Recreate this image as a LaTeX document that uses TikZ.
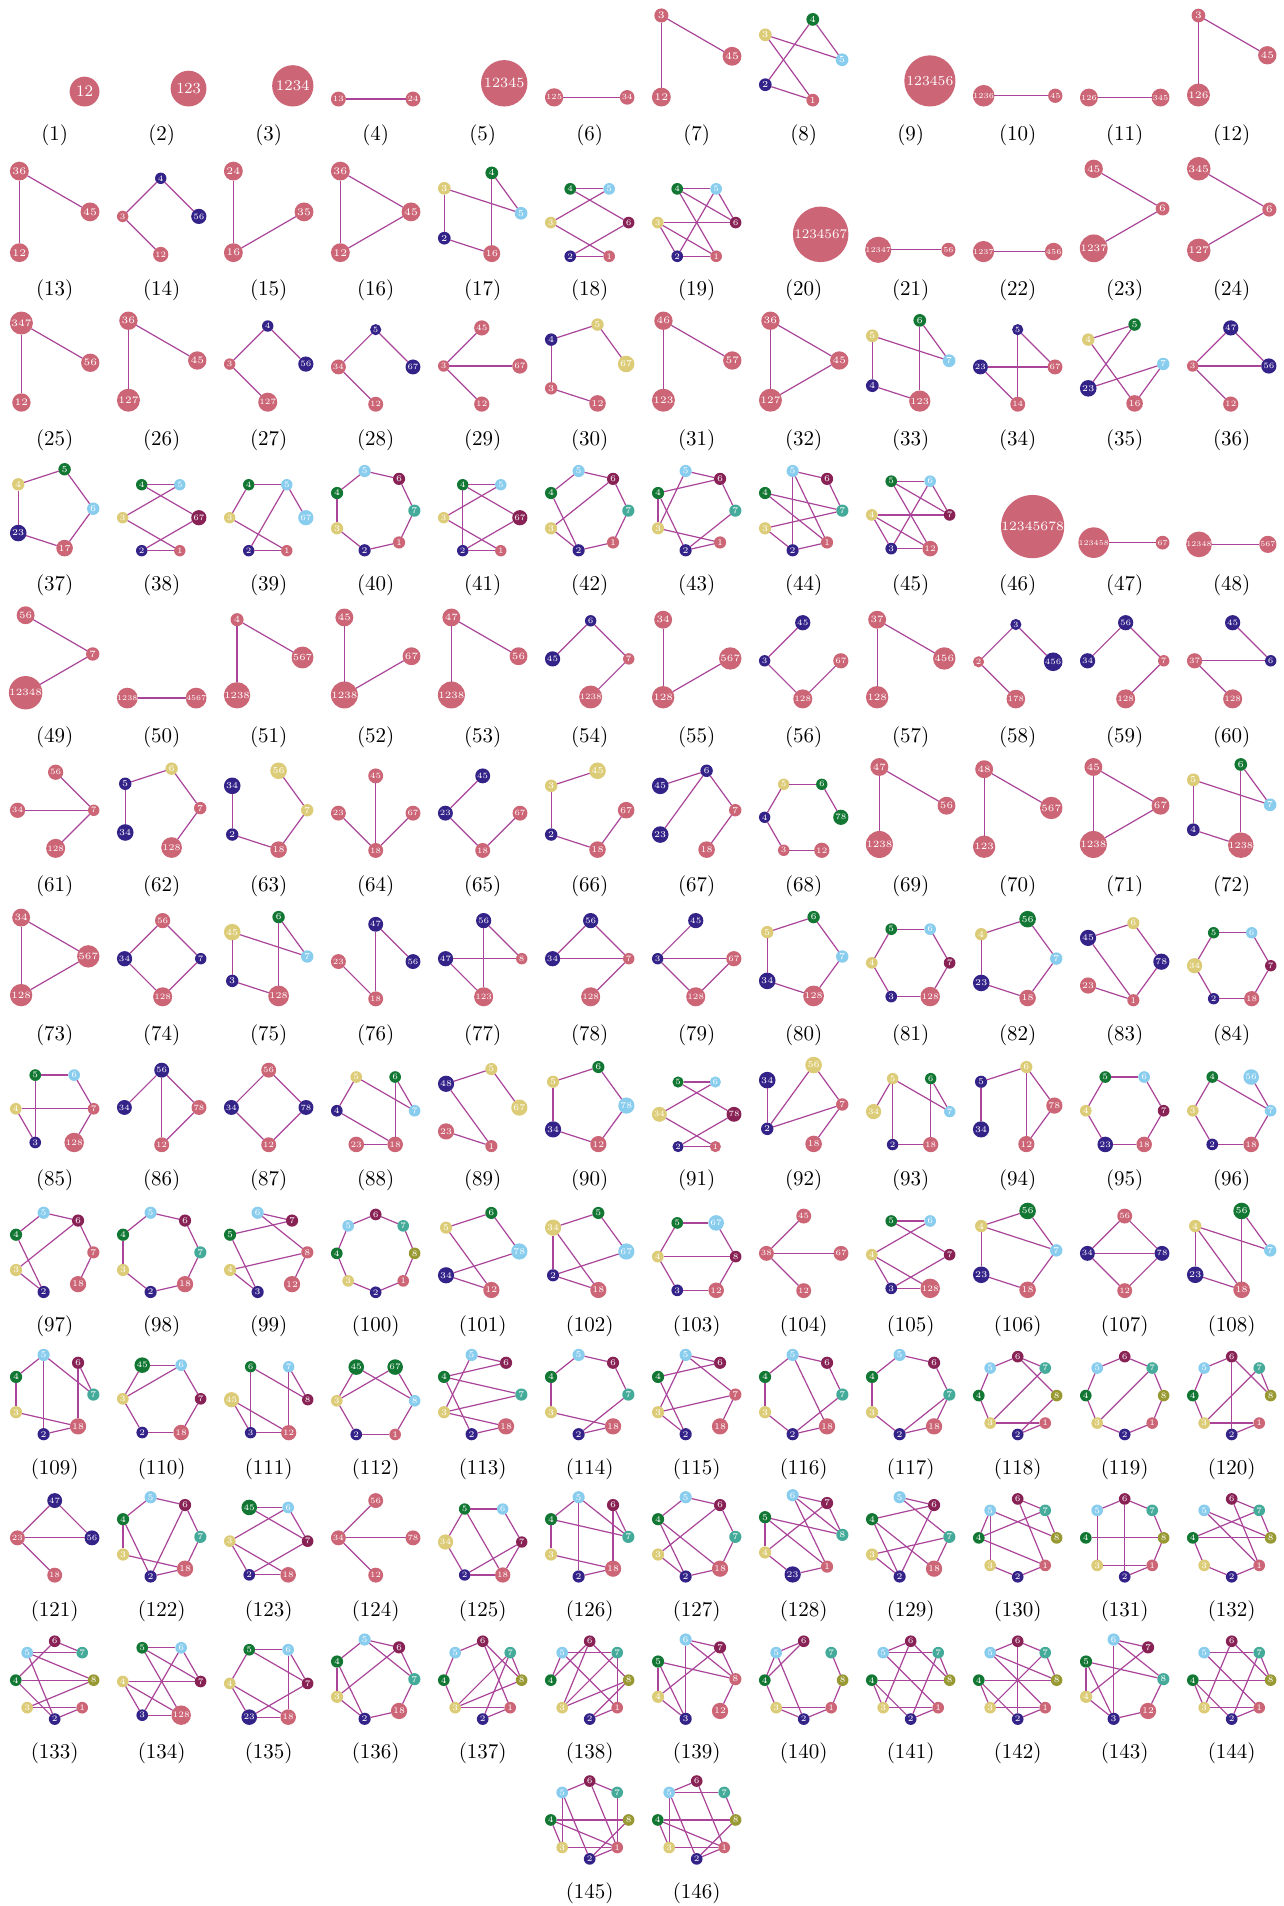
\documentclass[tikz,border=0pt]{standalone}
\usepackage{fontspec}
\definecolor{cr}{HTML}{CC6677}
\definecolor{cb}{HTML}{332288}
\definecolor{cy}{HTML}{DDCC77}
\definecolor{cg}{HTML}{117733}
\definecolor{cc}{HTML}{88CCEE}
\definecolor{cw}{HTML}{882255}
\definecolor{ct}{HTML}{44AA99}
\definecolor{co}{HTML}{999933}
\definecolor{edgec}{HTML}{AA4499}
\tikzset{
  gnode/.style={circle, inner sep=0pt, outer sep=0pt, text=white},
  gedge/.style={draw=edgec, line width=0.6pt},
  gcap/.style={font=\fontsize{10.5pt}{12pt}\selectfont, inner sep=0pt}
}
\newcommand\GrNode[7]{\node[gnode, fill=c#6, minimum size=#4pt, font=\fontsize{#5pt}{#5pt}\selectfont] (#1) at (#2,#3) {#7};}
\newcommand\GrEdge[3]{\draw[gedge] (g#1-#2) -- (g#1-#3);}
\newcommand\GrCap[3]{\node[gcap] (cap#1) at (#2,#3) {(#1)};}
\newcommand\EightN{1r,2b,3y,4g,5c,6w,7t,8o}
\newcommand\SevenN{1r,2b,3y,4g,5c,6w,7t}
\newcommand\SevenE{18r,2b,3y,4g,5c,6w,7t}
\ExplSyntaxOn
\seq_new:N \l__gr_nodes_seq
\int_new:N \l__gr_n_int
\int_new:N \l__gr_col_int
\int_new:N \l__gr_row_int
\fp_new:N \l__gr_xmin_fp
\fp_new:N \l__gr_xmax_fp
\fp_new:N \l__gr_ymin_fp
\fp_new:N \l__gr_s_fp
\fp_new:N \l__gr_t_fp
\fp_new:N \l__gr_d_fp
\fp_new:N \l__gr_colx_fp
\fp_new:N \l__gr_base_fp
\tl_new:N \l__gr_num_tl
\clist_const:Nn \c__gr_capy_clist {135.0, 290.6, 440.2, 584.9, 736.9, 886.4, 1034.8, 1180.7, 1326.6, 1468.8, 1611.1, 1753.4, 1893.2}
\cs_new_protected:Npn \__gr_edge:w #1 - #2 \q_stop
  { \exp_args:NV \GrEdge \l__gr_num_tl {#1} {#2} }
\NewDocumentCommand \Gr { m m m }
  {
    \tl_set:Nn \l__gr_num_tl {#1}
    \exp_args:NNe \seq_set_from_clist:Nn \l__gr_nodes_seq {#2}
    \int_set:Nn \l__gr_n_int { \seq_count:N \l__gr_nodes_seq }
    \int_set:Nn \l__gr_col_int { \int_mod:nn {#1 - 1} {12} }
    \int_set:Nn \l__gr_row_int { \int_div_truncate:nn {#1 - 1} {12} }
    \int_compare:nNnT {#1} > {144} { \int_set:Nn \l__gr_col_int {#1 - 140} }
    \fp_set:Nn \l__gr_xmin_fp {100}
    \fp_set:Nn \l__gr_xmax_fp {-100}
    \fp_set:Nn \l__gr_ymin_fp {100}
    \seq_map_indexed_inline:Nn \l__gr_nodes_seq
      {
        \fp_set:Nn \l__gr_t_fp { -360 * ##1 / \int_use:N \l__gr_n_int }
        \fp_set:Nn \l__gr_d_fp { 0.2 + 0.1 * ( \tl_count:n {##2} - 1 ) }
        \fp_set:Nn \l__gr_xmin_fp { min ( \l__gr_xmin_fp , cosd ( \l__gr_t_fp ) - \l__gr_d_fp / 2 ) }
        \fp_set:Nn \l__gr_xmax_fp { max ( \l__gr_xmax_fp , cosd ( \l__gr_t_fp ) + \l__gr_d_fp / 2 ) }
        \fp_set:Nn \l__gr_ymin_fp { min ( \l__gr_ymin_fp , sind ( \l__gr_t_fp ) - \l__gr_d_fp / 2 ) }
      }
    \int_compare:nNnT { \l__gr_n_int } = { 1 }
      { \fp_set:Nn \l__gr_xmin_fp { min ( \l__gr_xmin_fp , 0 ) } }
    \fp_set:Nn \l__gr_s_fp { 89.5 / ( \l__gr_xmax_fp - \l__gr_xmin_fp ) }
    \fp_set:Nn \l__gr_colx_fp { 54.7 + 107 * \int_use:N \l__gr_col_int - \l__gr_s_fp * ( \l__gr_xmax_fp + \l__gr_xmin_fp ) / 2 }
    \fp_set:Nn \l__gr_base_fp { \clist_item:Nn \c__gr_capy_clist { \l__gr_row_int + 1 } - 28.5 + \l__gr_s_fp * \l__gr_ymin_fp }
    \seq_map_indexed_inline:Nn \l__gr_nodes_seq
      {
        \fp_set:Nn \l__gr_t_fp { -360 * ##1 / \int_use:N \l__gr_n_int }
        \use:e
          {
            \exp_not:N \GrNode
              { g#1 - \tl_range:nnn {##2} {1} {-2} }
              { \fp_eval:n { \l__gr_colx_fp + \l__gr_s_fp * cosd ( \l__gr_t_fp ) } }
              { \fp_eval:n { \l__gr_base_fp - \l__gr_s_fp * sind ( \l__gr_t_fp ) } }
              { \fp_eval:n { 0.5 * \l__gr_s_fp * ( 0.2 + 0.1 * ( \tl_count:n {##2} - 1 ) ) } }
              { \fp_eval:n { 0.1075 * \l__gr_s_fp } }
              { \tl_item:nn {##2} {-1} }
              { \tl_range:nnn {##2} {1} {-2} }
          }
      }
    \clist_map_inline:nn {#3} { \__gr_edge:w ##1 \q_stop }
    \use:e
      {
        \exp_not:N \GrCap {#1}
          { \fp_eval:n { 54.7 + 107 * \int_use:N \l__gr_col_int } }
          { \clist_item:Nn \c__gr_capy_clist { \l__gr_row_int + 1 } }
      }
  }
\ExplSyntaxOff
\begin{document}
\begin{tikzpicture}[x=0.5pt,y=-0.5pt]
\fill[white] (0,0) rectangle (1284,1906);
\useasboundingbox (0,0) rectangle (1284,1906);
\Gr{1}{12r}{}
\Gr{2}{123r}{}
\Gr{3}{1234r}{}
\Gr{4}{13r,24r}{13-24}
\Gr{5}{12345r}{}
\Gr{6}{125r,34r}{125-34}
\Gr{7}{12r,3r,45r}{3-12,3-45}
\Gr{8}{1r,2b,3y,4g,5c}{4-2,4-5,3-5,3-1,2-1}
\Gr{9}{123456r}{}
\Gr{10}{1236r,45r}{1236-45}
\Gr{11}{126r,345r}{126-345}
\Gr{12}{126r,3r,45r}{3-126,3-45}
\Gr{13}{12r,36r,45r}{36-12,36-45}
\Gr{14}{12r,3r,4b,56b}{4-3,4-56,3-12}
\Gr{15}{16r,24r,35r}{24-16,16-35}
\Gr{16}{12r,36r,45r}{36-12,36-45,12-45}
\Gr{17}{16r,2b,3y,4g,5c}{4-5,4-16,3-5,3-2,2-16}
\Gr{18}{1r,2b,3y,4g,5c,6w}{4-5,4-6,3-5,3-1,2-6,2-1}
\Gr{19}{1r,2b,3y,4g,5c,6w}{4-5,4-6,4-1,5-6,5-2,3-6,3-2,3-1,2-1}
\Gr{20}{1234567r}{}
\Gr{21}{12347r,56r}{12347-56}
\Gr{22}{1237r,456r}{1237-456}
\Gr{23}{1237r,45r,6r}{45-6,6-1237}
\Gr{24}{127r,345r,6r}{345-6,6-127}
\Gr{25}{12r,347r,56r}{347-12,347-56}
\Gr{26}{127r,36r,45r}{36-127,36-45}
\Gr{27}{127r,3r,4b,56b}{4-3,4-56,3-127}
\Gr{28}{12r,34r,5b,67b}{5-34,5-67,34-12}
\Gr{29}{12r,3r,45r,67r}{3-45,3-67,3-12}
\Gr{30}{12r,3r,4b,5y,67y}{4-5,5-67,4-3,3-12}
\Gr{31}{123r,46r,57r}{46-123,46-57}
\Gr{32}{127r,36r,45r}{36-127,36-45,127-45}
\Gr{33}{123r,4b,5y,6g,7c}{6-7,6-123,5-7,5-4,4-123}
\Gr{34}{14r,23b,5b,67r}{5-67,5-14,23-67,23-14}
\Gr{35}{16r,23b,4y,5g,7c}{4-5,5-23,4-16,23-7,7-16}
\Gr{36}{12r,3r,47b,56b}{47-3,47-56,3-56,3-12}
\Gr{37}{17r,23b,4y,5g,6c}{4-5,5-6,6-17,17-23,23-4}
\Gr{38}{1r,2b,3y,4g,5c,67w}{4-5,4-67,3-5,3-1,2-67,2-1}
\Gr{39}{1r,2b,3y,4g,5c,67c}{4-5,4-3,5-67,5-2,3-1,2-1}
\Gr{40}{\SevenN}{5-6,6-7,7-1,1-2,2-3,3-4,4-5}
\Gr{41}{1r,2b,3y,4g,5c,67w}{4-5,4-67,4-2,3-5,3-1,2-67,2-1}
\Gr{42}{\SevenN}{4-5,5-6,6-7,7-1,1-2,2-3,2-4,3-6}
\Gr{43}{\SevenN}{5-6,5-3,4-6,4-3,4-2,6-7,7-2,3-1,2-1}
\Gr{44}{\SevenN}{5-6,5-2,5-1,4-7,4-1,3-7,3-2,6-7,2-1}
\Gr{45}{12r,3b,4y,5g,6c,7w}{5-6,5-7,5-12,6-7,6-3,4-7,4-3,4-12,3-12}
\Gr{46}{12345678r}{}
\Gr{47}{123458r,67r}{123458-67}
\Gr{48}{12348r,567r}{12348-567}
\Gr{49}{12348r,56r,7r}{56-7,7-12348}
\Gr{50}{1238r,4567r}{1238-4567}
\Gr{51}{1238r,4r,567r}{4-1238,4-567}
\Gr{52}{1238r,45r,67r}{45-1238,1238-67}
\Gr{53}{1238r,47r,56r}{47-1238,47-56}
\Gr{54}{1238r,45b,6b,7r}{45-6,6-7,7-1238}
\Gr{55}{128r,34r,567r}{34-128,128-567}
\Gr{56}{128r,3b,45b,67r}{3-45,3-128,128-67}
\Gr{57}{128r,37r,456r}{37-128,37-456}
\Gr{58}{178r,2r,3b,456b}{3-2,3-456,2-178}
\Gr{59}{128r,34b,56b,7r}{34-56,56-7,7-128}
\Gr{60}{128r,37r,45b,6b}{45-6,37-6,37-128}
\Gr{61}{128r,34r,56r,7r}{56-7,34-7,7-128}
\Gr{62}{128r,34b,5b,6y,7r}{5-6,5-34,6-7,7-128}
\Gr{63}{18r,2b,34b,56y,7y}{34-2,2-18,56-7,7-18}
\Gr{64}{18r,23r,45r,67r}{45-18,23-18,67-18}
\Gr{65}{18r,23b,45b,67r}{45-23,23-18,18-67}
\Gr{66}{18r,2b,3y,45y,67r}{3-45,3-2,2-18,18-67}
\Gr{67}{18r,23b,45b,6b,7r}{45-6,6-23,6-7,7-18}
\Gr{68}{12r,3r,4b,5y,6g,78g}{5-6,6-78,5-4,4-3,3-12}
\Gr{69}{1238r,47r,56r}{47-1238,47-56}
\Gr{70}{123r,48r,567r}{48-123,48-567}
\Gr{71}{1238r,45r,67r}{45-1238,45-67,67-1238}
\Gr{72}{1238r,4b,5y,6g,7c}{6-7,6-1238,5-7,5-4,4-1238}
\Gr{73}{128r,34r,567r}{34-128,34-567,567-128}
\Gr{74}{128r,34b,56r,7b}{56-34,56-7,34-128,7-128}
\Gr{75}{128r,3b,45y,6g,7c}{6-7,6-128,45-7,45-3,3-128}
\Gr{76}{18r,23r,47b,56b}{47-56,47-18,23-18}
\Gr{77}{123r,47b,56b,8r}{56-8,56-123,47-8,47-123}
\Gr{78}{128r,34b,56b,7r}{56-34,56-7,34-7,7-128}
\Gr{79}{128r,3b,45b,67r}{45-3,3-67,3-128,67-128}
\Gr{80}{128r,34b,5y,6g,7c}{5-6,6-7,5-34,34-128,128-7}
\Gr{81}{128r,3b,4y,5g,6c,7w}{5-6,6-7,7-128,128-3,3-4,4-5}
\Gr{82}{18r,23b,4y,56g,7c}{4-56,56-7,7-18,18-23,23-4}
\Gr{83}{1r,23r,45b,6y,78b}{45-6,6-78,78-1,45-1,23-1}
\Gr{84}{18r,2b,34y,5g,6c,7w}{5-6,6-7,7-18,18-2,2-34,34-5}
\Gr{85}{128r,3b,4y,5g,6c,7r}{5-6,6-7,5-3,4-7,4-3,7-128}
\Gr{86}{12r,34b,56b,78r}{56-34,56-12,56-78,78-12}
\Gr{87}{12r,34b,56r,78b}{56-34,56-78,34-12,78-12}
\Gr{88}{18r,23r,4b,5y,6g,7c}{5-4,5-7,6-7,6-18,4-18,23-18}
\Gr{89}{1r,23r,48b,5y,67y}{48-5,5-67,48-1,23-1}
\Gr{90}{12r,34b,5y,6g,78c}{5-6,6-78,78-12,12-34,34-5}
\Gr{91}{1r,2b,34y,5g,6c,78w}{5-6,5-78,34-6,34-1,2-78,2-1}
\Gr{92}{18r,2b,34b,56y,7r}{34-2,56-2,56-7,2-7,7-18}
\Gr{93}{18r,2b,34y,5y,6g,7c}{5-34,5-2,5-7,6-7,6-18,2-18}
\Gr{94}{12r,34b,5b,6y,78r}{5-6,5-34,6-78,6-12,78-12}
\Gr{95}{18r,23b,4y,5g,6c,7w}{5-6,6-7,7-18,18-23,23-4,4-5}
\Gr{96}{18r,2b,3y,4g,56c,7c}{4-3,4-7,56-7,7-18,18-2,2-3}
\Gr{97}{18r,2b,3y,4g,5c,6w,7r}{4-5,5-6,6-7,7-18,4-2,3-6,3-2}
\Gr{98}{\SevenE}{4-5,5-6,6-7,7-18,18-2,2-3,3-4}
\Gr{99}{12r,3b,4y,5g,6c,7w,8r}{6-7,6-8,5-7,5-3,4-8,4-3,8-12}
\Gr{100}{\EightN}{6-7,7-8,8-1,1-2,2-3,3-4,4-5,5-6}
\Gr{101}{12r,34b,5y,6g,78c}{5-6,6-78,5-12,78-34,34-12}
\Gr{102}{18r,2b,34y,5g,67c}{34-5,5-67,34-2,34-18,67-2,2-18}
\Gr{103}{12r,3b,4y,5g,67c,8w}{5-67,67-8,5-4,4-8,4-3,3-12,8-12}
\Gr{104}{12r,38r,45r,67r}{38-45,38-67,38-12}
\Gr{105}{128r,3b,4y,5g,6c,7w}{5-6,5-7,6-4,4-3,4-128,7-3,3-128}
\Gr{106}{18r,23b,4y,56g,7c}{4-56,4-7,56-7,4-23,23-18,7-18}
\Gr{107}{12r,34b,56r,78b}{56-34,56-78,34-78,34-12,78-12}
\Gr{108}{18r,23b,4y,56g,7c}{4-7,4-23,4-18,56-7,56-18,23-18}
\Gr{109}{\SevenE}{4-5,4-3,5-2,5-7,6-7,6-18,3-18,2-18}
\Gr{110}{18r,2b,3y,45g,6c,7w}{45-6,45-3,3-6,6-7,7-18,3-2,2-18}
\Gr{111}{12r,3b,45y,6g,7c,8w}{6-3,6-8,7-8,7-12,45-3,45-12,3-12}
\Gr{112}{1r,2b,3y,45g,67g,8c}{45-3,45-8,67-3,67-8,3-2,8-1,2-1}
\Gr{113}{\SevenE}{5-6,5-3,4-6,4-7,4-2,3-7,3-18,2-18}
\Gr{114}{\SevenE}{4-5,5-6,6-7,4-3,3-18,7-2,2-18}
\Gr{115}{18r,2b,3y,4g,5c,6w,7r}{5-6,5-3,5-7,4-6,4-2,3-7,3-2,7-18}
\Gr{116}{\SevenE}{4-5,5-6,5-18,6-7,7-2,4-3,3-2,2-18}
\Gr{117}{\SevenE}{4-5,5-6,6-7,7-18,7-2,4-3,3-2,2-18}
\Gr{118}{\EightN}{5-6,6-7,6-8,7-3,8-2,5-4,4-3,3-1,2-1}
\Gr{119}{\EightN}{5-6,6-7,7-8,7-3,8-1,1-2,2-3,3-4,4-5}
\Gr{120}{\EightN}{5-6,6-2,6-8,7-8,7-3,5-4,4-3,3-1,2-1}
\Gr{121}{18r,23r,47b,56b}{47-23,47-56,23-56,23-18}
\Gr{122}{\SevenE}{4-5,5-6,4-3,4-2,6-7,6-2,7-18,3-18,2-18}
\Gr{123}{18r,2b,3y,45g,6c,7w}{45-6,45-7,6-3,6-7,3-2,3-18,7-2,2-18}
\Gr{124}{12r,34r,56r,78r}{56-34,34-78,34-12}
\Gr{125}{18r,2b,34y,5g,6c,7w}{5-6,5-34,5-18,6-7,7-2,7-18,34-2,2-18}
\Gr{126}{\SevenE}{4-5,5-2,5-7,4-7,6-7,6-18,4-3,3-18,2-18}
\Gr{127}{\SevenE}{4-5,5-6,6-7,6-3,4-2,4-18,7-18,3-2,2-18}
\Gr{128}{1r,23b,4y,5g,6c,7w,8t}{6-7,6-8,6-1,5-8,5-1,5-4,7-4,7-8,4-23,23-1}
\Gr{129}{\SevenE}{5-6,5-7,4-6,4-2,4-18,6-2,3-7,3-2,7-18}
\Gr{130}{\EightN}{5-3,5-4,5-8,6-7,6-1,4-7,4-1,7-8,3-2,2-1}
\Gr{131}{\EightN}{5-6,5-3,6-7,6-2,4-8,7-8,8-1,3-1,2-1}
\Gr{132}{\EightN}{5-8,5-1,6-7,6-1,4-7,4-8,4-3,7-8,3-2,2-1}
\Gr{133}{\EightN}{5-7,6-7,6-4,5-8,5-2,4-8,4-2,3-8,3-1,2-1}
\Gr{134}{128r,3b,4y,5g,6c,7w}{5-6,5-7,5-128,6-7,6-3,4-7,4-3,4-128,3-128}
\Gr{135}{18r,23b,4y,5g,6c,7w}{5-6,5-7,5-4,6-7,6-18,4-23,4-18,23-7,23-18}
\Gr{136}{\SevenE}{4-5,5-6,5-7,6-7,6-3,4-3,4-2,3-2,7-18,2-18}
\Gr{137}{\EightN}{5-6,6-8,6-1,7-8,7-3,7-2,4-5,4-3,8-3,3-1,2-1}
\Gr{138}{\EightN}{5-7,5-1,6-4,6-3,6-8,7-3,7-1,8-3,8-2,4-5,2-1}
\Gr{139}{12r,3b,4y,5g,6c,7w,8r}{6-7,6-8,6-3,7-8,7-4,5-8,5-4,5-3,4-3,8-12}
\Gr{140}{\EightN}{5-6,5-4,5-2,6-4,7-8,8-1,3-4,3-1,3-2,2-1}
\Gr{141}{\EightN}{5-6,5-7,5-1,6-3,6-8,7-8,7-2,4-8,4-3,4-2,3-1,2-1}
\Gr{142}{\EightN}{5-6,5-8,5-1,6-7,6-2,7-3,7-8,4-8,4-3,4-2,3-1,2-1}
\Gr{143}{12r,3b,4y,5g,6c,7w,8t}{6-7,6-8,6-3,7-4,5-8,5-4,5-3,4-3,3-12,8-12}
\Gr{144}{\EightN}{5-7,5-1,6-3,6-8,7-8,7-2,4-8,4-3,4-2,3-1,2-1}
\Gr{145}{\EightN}{5-6,5-3,5-2,6-7,6-1,7-1,4-8,4-3,4-1,3-1,2-1,2-8}
\Gr{146}{\EightN}{5-6,5-7,5-3,5-2,6-1,7-8,4-8,4-3,4-1,8-2,3-1,2-1}
\end{tikzpicture}
\end{document}
